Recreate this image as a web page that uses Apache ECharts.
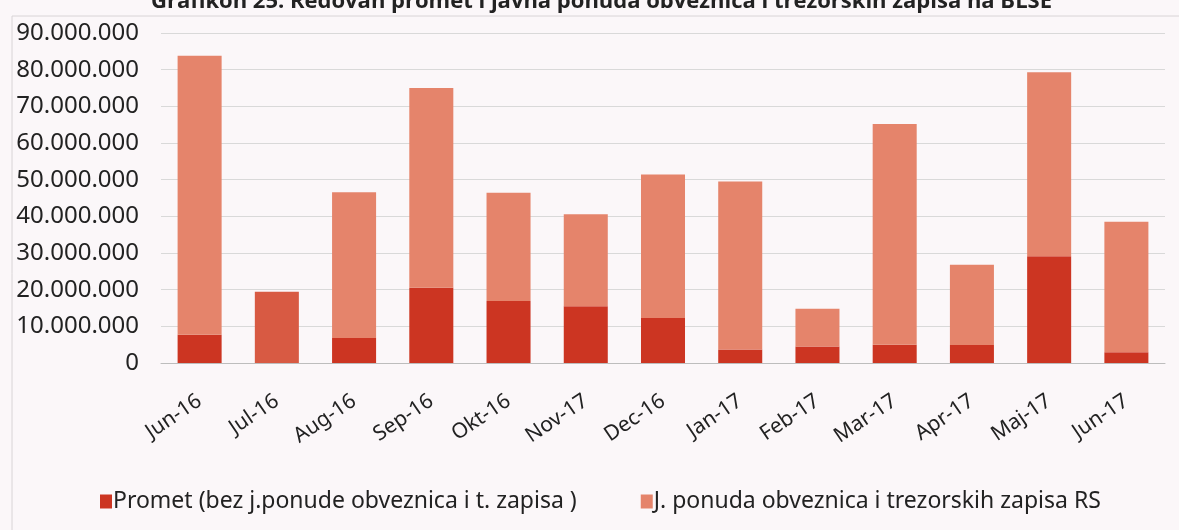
<!DOCTYPE html>
<html>
<head>
<meta charset="utf-8">
<script src="https://cdn.jsdelivr.net/npm/echarts@6/dist/echarts.min.js"></script>
<style>
  html, body { margin: 0; padding: 0; background: #fbf7f9; }
  #chart { width: 1179px; height: 530px; }
</style>
</head>
<body>
<div id="chart"></div>
<script>
var months = ['Jun-16', 'Jul-16', 'Aug-16', 'Sep-16', 'Okt-16', 'Nov-17', 'Dec-16',
    'Jan-17', 'Feb-17', 'Mar-17', 'Apr-17', 'Maj-17', 'Jun-17'];
// redovan promet
var promet = [7700000, 19400000, 6800000, 20500000, 16900000, 15500000, 12300000,
    3700000, 4500000, 5000000, 4900000, 29100000, 2900000];
// javna ponuda obveznica i trezorskih zapisa
var ponuda = [76100000, 0, 39800000, 54500000, 29500000, 25100000, 39100000,
    45800000, 10300000, 60200000, 21900000, 50200000, 35600000];
var yTicks = [0, 10000000, 20000000, 30000000, 40000000, 50000000, 60000000, 70000000, 80000000, 90000000];

var chart = echarts.init(document.getElementById('chart'));

function fmt(v) {
    return String(v).replace(/\B(?=(\d{3})+(?!\d))/g, '.');
}

// Jul-16 stupac je u originalu druge boje
var prometData = promet.map(function(v, i) {
    if (i === 1) return { value: v, itemStyle: { color: '#d85a43' } };
    return v;
});

var option = {
    backgroundColor: '#fbf7f9',
    textStyle: { fontFamily: 'Noto Sans' },
    title: {
        text: 'Grafikon 25: Redovan promet i javna ponuda obveznica i trezorskih zapisa na BLSE',
        left: 146,
        top: -14,
        textStyle: { fontSize: 22, fontWeight: 'bold', color: '#222', fontFamily: 'Open Sans' }
    },
    graphic: [{
        type: 'rect',
        shape: { x: 12, y: 16, width: 1180, height: 530 },
        style: { fill: 'none', stroke: '#d8d4d6', lineWidth: 1 },
        silent: true
    }],
    legend: {
        bottom: 12,
        left: 95,
        itemGap: 64,
        itemWidth: 12,
        itemHeight: 14,
        icon: 'rect',
        textStyle: { fontSize: 23, color: '#222', padding: [0, 0, 0, -4] },
        data: ['Promet (bez j.ponude obveznica i t. zapisa )', 'J. ponuda obveznica i trezorskih zapisa RS']
    },
    grid: { left: 161, right: 14, top: 33, bottom: 167 },
    xAxis: {
        type: 'category',
        data: months,
        axisLine: { lineStyle: { color: '#bdbdbd' } },
        axisTick: { show: false },
        axisLabel: { rotate: 34, fontSize: 21, color: '#222', margin: 36, interval: 0 }
    },
    yAxis: {
        type: 'value',
        min: 0,
        max: 90000000,
        interval: 10000000,
        axisLine: { show: false },
        axisTick: { show: false },
        splitLine: { lineStyle: { color: '#d9d9d9' } },
        axisLabel: {
            fontSize: 24, color: '#222', margin: 22,
            formatter: function(v) { return yTicks.indexOf(v) >= 0 ? fmt(v) : ''; }
        }
    },
    series: [{
        name: 'Promet (bez j.ponude obveznica i t. zapisa )',
        type: 'bar',
        stack: 'total',
        barWidth: '57%',
        itemStyle: { color: '#cc3522' },
        data: prometData
    }, {
        name: 'J. ponuda obveznica i trezorskih zapisa RS',
        type: 'bar',
        stack: 'total',
        barWidth: '57%',
        itemStyle: { color: '#e5846b' },
        data: ponuda
    }]
};
chart.setOption(option);
</script>
</body>
</html>
